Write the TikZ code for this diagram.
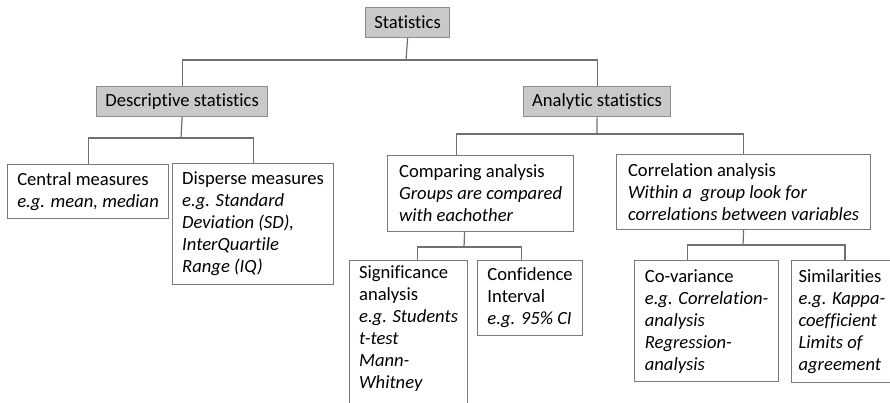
\documentclass[tikz,border=0pt]{standalone}
\usepackage{fontspec}
\setmainfont{Carlito}[Ligatures=NoCommon]
\definecolor{headfill}{HTML}{C9C9C9}
\definecolor{headline}{HTML}{8C8C8C}
\definecolor{leafline}{HTML}{7A7A7A}
\definecolor{wireline}{HTML}{707070}
\tikzset{
  head/.style={draw=headline, fill=headfill, line width=1.2pt, anchor=north west,
    inner sep=0pt, minimum height=30, font=\fontsize{18.6}{22}\selectfont},
  leaf/.style={draw=leafline, fill=white, line width=1.2pt, anchor=north west,
    align=left, inner xsep=7, inner ysep=5, font=\fontsize{18.6}{22}\selectfont},
  wire/.style={draw=wireline, line width=1.2pt}
}
\begin{document}
\begin{tikzpicture}[x=1pt, y=-1pt]
\useasboundingbox (0,0) rectangle (890,402);
\clip (0,0) rectangle (890,402);
\node[head, minimum width=84] (B_0_0) at (365,7) {Statistics};
\node[head, minimum width=171] (B_1_0) at (96,86) {Descriptive statistics};
\node[head, minimum width=147] (B_1_1) at (523,86) {Analytic statistics};
\coordinate (J_0) at (406,60);
\draw[wire] (B_0_0.south) -- (J_0);
\draw[wire] (B_1_0.north) |- (J_0) -| (B_1_1.north);
% descriptive side
\node[leaf, minimum width=161, minimum height=54] (B_2_0) at (7,164)
  {Central measures\\ \textit{e.g. mean, median}};
\node[leaf, minimum width=161, minimum height=121] (B_2_1) at (172,163)
  {Disperse measures\\ \textit{e.g. Standard}\\ \textit{Deviation (SD),}\\
   \textit{InterQuartile}\\ \textit{Range (IQ)}};
\coordinate (J_1) at (181,138);
\draw[wire] (B_1_0.south) -- (J_1);
\draw[wire] (B_2_0.north) |- (J_1) -| (B_2_1.north);
% analytic side
\node[leaf, minimum width=186, minimum height=76] (B_2_2) at (387,155)
  {Comparing analysis\\ \textit{Groups are compared}\\ \textit{with eachother}};
\node[leaf, minimum width=254, minimum height=75] (B_2_3) at (616,154)
  {Correlation analysis\\ \textit{Within a~ group look for}\\
   \textit{correlations between variables}};
\coordinate (J_2) at (597,134);
\draw[wire] (B_1_1.south) -- (J_2);
\draw[wire] ([xshift=-24]B_2_2.north) |- (J_2) -| (B_2_3.north);
% comparing
\node[leaf, minimum width=118] (B_3_0) at (349,260)
  {Significance\\ analysis\\ \textit{e.g. Students}\\ \textit{t-test}\\
   \textit{Mann-}\\ \textit{Whitney}\\ ~};
\node[leaf, minimum width=105, minimum height=75] (B_3_1) at (477,260)
  {Confidence\\ Interval\\ \textit{e.g. 95\% CI}};
\coordinate (J_3) at (464,247);
\draw[wire] ([xshift=-16]B_2_2.south) -- (J_3);
\draw[wire] ([xshift=9]B_3_0.north) |- (J_3) -| ([xshift=-8.5]B_3_1.north);
% correlation
\node[leaf, minimum width=144, minimum height=121] (B_3_2) at (634,260)
  {Co-variance\\ \textit{e.g. Correlation-}\\ \textit{analysis}\\
   \textit{Regression-}\\ \textit{analysis}};
\node[leaf, minimum width=100, minimum height=122] (B_3_3) at (791,260)
  {Similarities\\ \textit{e.g. Kappa-}\\ \textit{coefficient}\\
   \textit{Limits of}\\ \textit{agreement}};
\coordinate (J_4) at (743,245);
\draw[wire] (B_2_3.south) -- (J_4);
\draw[wire] ([xshift=-19]B_3_2.north) |- (J_4) -| ([xshift=3]B_3_3.north);
\end{tikzpicture}
\end{document}
